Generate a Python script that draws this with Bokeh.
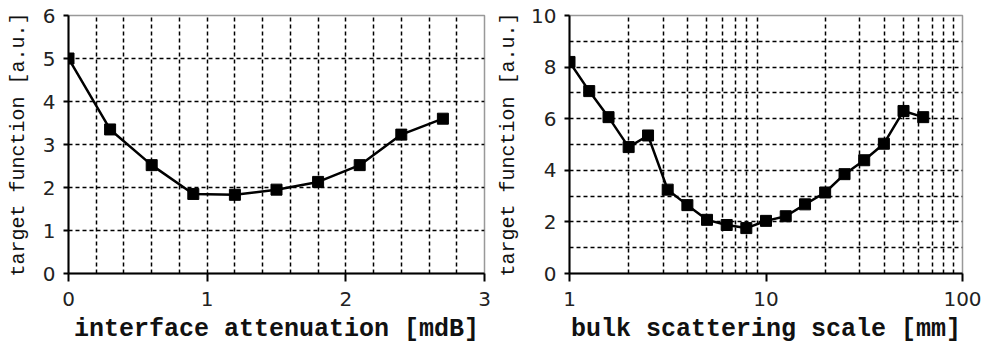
from bokeh.plotting import figure
from bokeh.layouts import row
from bokeh.models import Range1d, FixedTicker, BasicTickFormatter
from bokeh.embed import file_html
from bokeh.resources import INLINE

# ---- data ----
atten_x = [0, 0.3, 0.6, 0.9, 1.2, 1.5, 1.8, 2.1, 2.4, 2.7]
atten_y = [5.0, 3.35, 2.52, 1.85, 1.83, 1.95, 2.13, 2.52, 3.23, 3.6]

bulk_x = [1, 1.26, 1.58, 2, 2.51, 3.16, 3.98, 5.01, 6.31, 7.94,
          10, 12.6, 15.8, 20, 25.1, 31.6, 39.8, 50.1, 63.1]
bulk_y = [8.2, 7.07, 6.06, 4.9, 5.35, 3.25, 2.65, 2.08, 1.88, 1.76,
          2.04, 2.22, 2.68, 3.14, 3.85, 4.39, 5.03, 6.3, 6.06]

left_xticks = [0, 1, 2, 3]
left_yticks = [0, 1, 2, 3, 4, 5, 6]
left_xgrid = [0.2, 0.4, 0.6, 0.8, 1.0, 1.2, 1.4, 1.6, 1.8, 2.0, 2.2, 2.4, 2.6, 2.8]
left_ygrid = [1, 2, 3, 4, 5]

right_xticks = [1, 10, 100]
right_yticks = [0, 2, 4, 6, 8, 10]
right_xgrid = [2, 3, 4, 5, 6, 7, 8, 9, 20, 30, 40, 50, 60, 70, 80, 90]
right_ygrid = [1, 2, 3, 4, 5, 6, 7, 8, 9]

x_label_left = "interface attenuation [mdB]"
x_label_right = "bulk scattering scale [mm]"
y_label = "target function [a.u.]"

MONO = "Liberation Mono"
SANS = "DejaVu Sans"


def style(p, xticks, yticks, xgrid, ygrid, xlabel):
    p.outline_line_color = "#999999"
    p.outline_line_width = 1.5
    p.background_fill_color = "white"
    p.border_fill_color = "white"
    p.xaxis.ticker = FixedTicker(ticks=xticks)
    p.yaxis.ticker = FixedTicker(ticks=yticks)
    p.xaxis.formatter = BasicTickFormatter()
    p.xgrid.ticker = FixedTicker(ticks=xgrid)
    p.ygrid.ticker = FixedTicker(ticks=ygrid)
    for g in (p.xgrid, p.ygrid):
        g.grid_line_color = "black"
        g.grid_line_dash = "4 3"
        g.grid_line_width = 1.5
    for ax in (p.xaxis, p.yaxis):
        ax.axis_line_color = "black"
        ax.axis_line_width = 2
        ax.major_tick_line_color = "black"
        ax.major_tick_line_width = 2
        ax.major_tick_in = 0
        ax.minor_tick_line_color = None
        ax.major_label_text_font = SANS
        ax.major_label_text_font_size = "20px"
        ax.major_label_text_color = "#222222"
        ax.axis_label_text_color = "#111111"
    p.xaxis.major_tick_out = 8
    p.yaxis.major_tick_out = 5
    p.xaxis.major_label_standoff = 10
    p.yaxis.major_label_standoff = 8
    p.xaxis.axis_label = xlabel
    p.xaxis.axis_label_text_font = MONO
    p.xaxis.axis_label_text_font_style = "bold"
    p.xaxis.axis_label_text_font_size = "25px"
    p.xaxis.axis_label_standoff = 6
    p.yaxis.axis_label = y_label
    p.yaxis.axis_label_text_font = MONO
    p.yaxis.axis_label_text_font_style = "normal"
    p.yaxis.axis_label_text_font_size = "20px"
    p.yaxis.axis_label_standoff = 10


p1 = figure(width=492, height=349, output_backend="svg", toolbar_location=None,
            x_range=Range1d(0, 3), y_range=Range1d(0, 6),
            min_border_left=68, min_border_right=8, min_border_top=15,
            min_border_bottom=76)
style(p1, left_xticks, left_yticks, left_xgrid, left_ygrid, x_label_left)
p1.line(atten_x, atten_y, line_color="black", line_width=2.5)
p1.scatter(atten_x, atten_y, marker="square", size=11, fill_color="black",
           line_color="black")

p2 = figure(width=500, height=349, output_backend="svg", toolbar_location=None,
            x_axis_type="log", x_range=Range1d(1, 100), y_range=Range1d(0, 10),
            min_border_left=77, min_border_right=30, min_border_top=15,
            min_border_bottom=76)
style(p2, right_xticks, right_yticks, right_xgrid, right_ygrid, x_label_right)
p2.yaxis.axis_label_standoff = 8
p2.line(bulk_x, bulk_y, line_color="black", line_width=2.5)
p2.scatter(bulk_x, bulk_y, marker="square", size=11, fill_color="black",
           line_color="black")

layout = row(p1, p2)
open("out.html", "w").write(file_html(layout, INLINE))
